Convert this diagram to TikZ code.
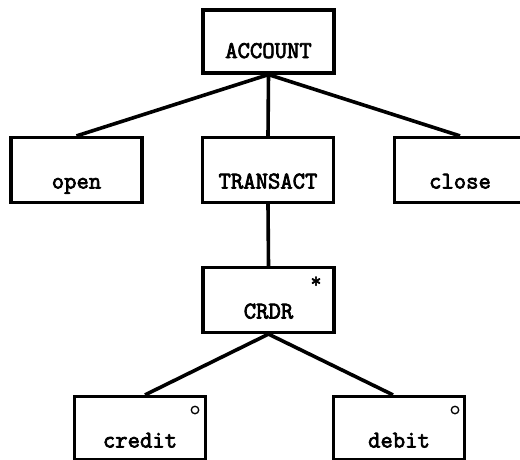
\documentclass[tikz,border=0pt]{standalone}
\usepackage{fontspec}
\newfontfamily\tyb{Latin Modern Mono}[FakeBold=3]
\begin{document}
\begin{tikzpicture}[x=1pt,y=-1pt,
  box/.style={draw=black, line width=3.2pt, fill=white, inner sep=0pt,
    minimum width=131pt, text height=51pt, text depth=14pt,
    font=\tyb\fontsize{24pt}{24pt}\selectfont},
  conn/.style={line width=3.6pt},
  mark star/.style={font=\tyb\fontsize{21pt}{21pt}\selectfont, inner sep=0pt},
  mark circ/.style={circle, draw=black, line width=1.3pt, minimum size=7.5pt, inner sep=0pt}]
\clip (0,0) rectangle (520,459);
\fill[white] (0,0) rectangle (520,459);
% nodes
\node[box, text height=48pt, text depth=15pt] (acc) at (268.5,41.5) {ACCOUNT};
\node[box] (open) at (76.5,170) {open};
\node[box] (trans) at (268,170) {TRANSACT};
\node[box] (close) at (460,170) {close};
\node[box] (crdr) at (268.5,300) {CRDR};
\node[box, text depth=12pt] (credit) at (140,428) {credit};
\node[box, text depth=12pt] (debit) at (399,428) {debit};
% markers
\node[mark star] (star) at (316,282) {*};
\node[mark circ] (c1) at (195,410) {};
\node[mark circ] (c2) at (455,410) {};
% connectors
\draw[conn] (acc.south) -- (open.north);
\draw[conn] (acc.south) -- (trans.north);
\draw[conn] (acc.south) -- (close.north);
\draw[conn] (trans.south) -- (crdr.north);
\draw[conn] (crdr.south) -- ([xshift=5pt]credit.north);
\draw[conn] (crdr.south) -- ([xshift=-6pt]debit.north);
\end{tikzpicture}
\end{document}
